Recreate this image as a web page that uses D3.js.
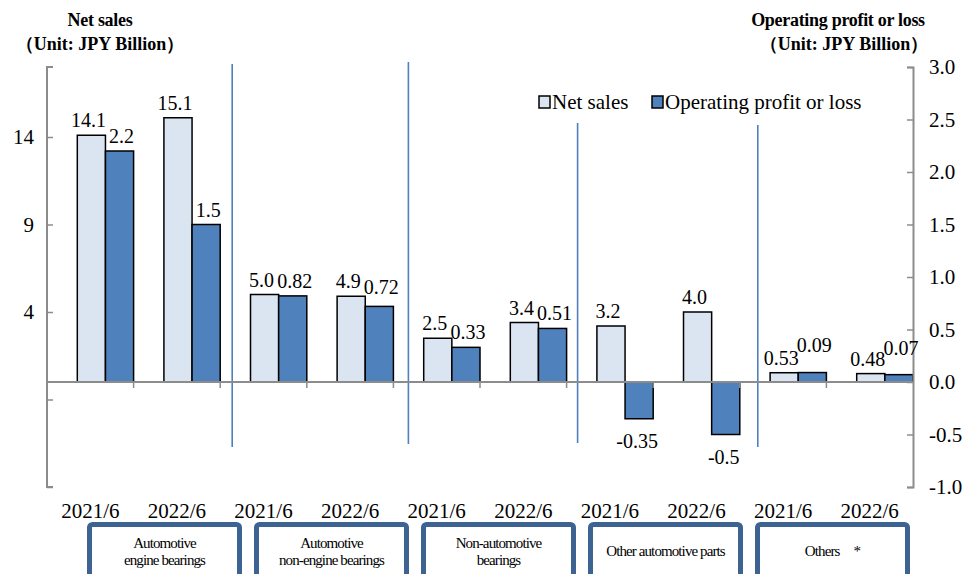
<!DOCTYPE html>
<html>
<head>
<meta charset="utf-8">
<script src="https://cdn.jsdelivr.net/npm/d3@7"></script>
<style>
  body { margin: 0; background: #fff; }
  svg { display: block; font-family: "Liberation Serif", "Times New Roman", serif; }
</style>
</head>
<body>
<div id="chart"></div>
<script>
// --- data ---
const periods = ["2021/6", "2022/6", "2021/6", "2022/6", "2021/6", "2022/6", "2021/6", "2022/6", "2021/6", "2022/6"];
const netSales = [14.1, 15.1, 5.0, 4.9, 2.5, 3.4, 3.2, 4.0, 0.53, 0.48];
const netSalesLabels = ["14.1", "15.1", "5.0", "4.9", "2.5", "3.4", "3.2", "4.0", "0.53", "0.48"];
const opProfit = [2.2, 1.5, 0.82, 0.72, 0.33, 0.51, -0.35, -0.5, 0.09, 0.07];
const opProfitLabels = ["2.2", "1.5", "0.82", "0.72", "0.33", "0.51", "-0.35", "-0.5", "0.09", "0.07"];
const segments = [
    ["Automotive", "engine bearings"],
    ["Automotive", "non-engine bearings"],
    ["Non-automotive", "bearings"],
    ["Other automotive parts"],
    ["Others\u3000*"]
];
const leftTicks = [-6, -1, 4, 9, 14];
const rightTicks = [-1.0, -0.5, 0.0, 0.5, 1.0, 1.5, 2.0, 2.5, 3.0];

const width = 964, height = 574;
const light = "#dbe5f1", dark = "#4f81bd", axisGray = "#8c8c8c";

const svg = d3.select("#chart").append("svg")
    .attr("width", width)
    .attr("height", height);

const x = d3.scaleBand()
    .domain(d3.range(periods.length))
    .range([47, 913])
    .padding(0);
const bw = x.bandwidth();

const series = d3.scaleBand()
    .domain(["sales", "op"])
    .range([bw * 0.35, bw])
    .padding(0);

const yL = d3.scaleLinear().domain([-6, 18]).range([487, 67]);
const yR = d3.scaleLinear().domain([-1, 3]).range([487, 67]);

// separators between segments
const sepOffsets = [12, 15, 11, 18];
const sepTops = [64, 62, 123, 125];
const sepBottoms = [447, 444, 443, 447];
sepOffsets.forEach((off, i) => {
    const sx = x((i + 1) * 2) + off;
    svg.append("line")
        .attr("x1", sx).attr("x2", sx)
        .attr("y1", sepTops[i]).attr("y2", sepBottoms[i])
        .attr("stroke", "#4f81bd")
        .attr("stroke-width", 1.6);
});

// bars
const g = svg.append("g");
g.selectAll("rect.sales")
    .data(netSales)
    .join("rect")
    .attr("class", "sales")
    .attr("x", (d, i) => x(i) + series("sales"))
    .attr("width", series.bandwidth())
    .attr("y", d => yL(d))
    .attr("height", d => yL(0) - yL(d))
    .attr("fill", light)
    .attr("stroke", "#000")
    .attr("stroke-width", 1.5);

g.selectAll("rect.op")
    .data(opProfit)
    .join("rect")
    .attr("class", "op")
    .attr("x", (d, i) => x(i) + series("op"))
    .attr("width", series.bandwidth())
    .attr("y", d => yR(Math.max(0, d)))
    .attr("height", d => Math.abs(yR(d) - yR(0)))
    .attr("fill", dark)
    .attr("stroke", "#000")
    .attr("stroke-width", 1.5);

// zero line + category ticks
svg.append("line")
    .attr("x1", 47).attr("x2", 913)
    .attr("y1", yL(0)).attr("y2", yL(0))
    .attr("stroke", axisGray).attr("stroke-width", 2);
svg.selectAll("line.xtick")
    .data(d3.range(1, periods.length))
    .join("line")
    .attr("class", "xtick")
    .attr("x1", d => x(d)).attr("x2", d => x(d))
    .attr("y1", yL(0)).attr("y2", yL(0) + 6)
    .attr("stroke", axisGray).attr("stroke-width", 1.5);

// left axis
const leftAxis = d3.axisRight(yL)
    .tickValues(leftTicks)
    .tickSize(6)
    .tickFormat(() => "");
const gl = svg.append("g").attr("transform", "translate(47,0)").call(leftAxis);
gl.select(".domain").attr("stroke", axisGray).attr("stroke-width", 2)
    .attr("d", `M6,${yL(18)}H0V${yL(-6)}H6`);
gl.selectAll(".tick line").attr("stroke", axisGray).attr("stroke-width", 1.5);
svg.selectAll("text.ltick")
    .data(leftTicks.filter(d => d > 0))
    .join("text")
    .attr("class", "ltick")
    .attr("x", 34)
    .attr("y", d => yL(d) + 7)
    .attr("text-anchor", "end")
    .style("font-size", "21px")
    .text(d => d);

// right axis
const rightAxis = d3.axisLeft(yR)
    .tickValues(rightTicks)
    .tickSize(6)
    .tickPadding(0)
    .tickFormat(() => "");
const gr = svg.append("g").attr("transform", "translate(913,0)").call(rightAxis);
gr.select(".domain").attr("stroke", axisGray).attr("stroke-width", 2);
gr.selectAll(".tick line").attr("stroke", axisGray).attr("stroke-width", 1.5);
svg.selectAll("text.rtick")
    .data(rightTicks)
    .join("text")
    .attr("class", "rtick")
    .attr("x", 929)
    .attr("y", d => yR(d) + 7)
    .style("font-size", "21px")
    .text(d => d3.format(".1f")(d).replace("−", "-"));

// data labels (small nudges keep neighbouring labels apart, like Excel does)
const opDy = [0, 0, 0, -4, 0, 0, 0, 0, -13, -12];
svg.selectAll("text.slab")
    .data(netSales)
    .join("text")
    .attr("class", "slab")
    .attr("x", (d, i) => x(i) + series("sales") + series.bandwidth() / 2 - 3)
    .attr("y", d => yL(d) - 8)
    .attr("text-anchor", "middle")
    .style("font-size", "20px")
    .text((d, i) => netSalesLabels[i]);
svg.selectAll("text.olab")
    .data(opProfit)
    .join("text")
    .attr("class", "olab")
    .attr("x", (d, i) => x(i) + series("op") + series.bandwidth() / 2 + (d < 0 ? -2 : 2))
    .attr("y", (d, i) => (d >= 0 ? yR(d) - 8 : yR(d) + 29) + opDy[i])
    .attr("text-anchor", "middle")
    .style("font-size", "20px")
    .text((d, i) => opProfitLabels[i]);

// period labels
svg.selectAll("text.period")
    .data(periods)
    .join("text")
    .attr("class", "period")
    .attr("x", (d, i) => x(i) + bw / 2)
    .attr("y", 518)
    .attr("text-anchor", "middle")
    .style("font-size", "21px")
    .text(d => d);

// segment boxes
const boxW = 155, boxStep = 167, boxLeft = 87, boxTop = 522;
segments.forEach((lines, i) => {
    const bx = boxLeft + i * boxStep;
    svg.append("rect")
        .attr("x", bx + 2.5).attr("y", boxTop + 2.5)
        .attr("width", boxW - 5).attr("height", 70)
        .attr("rx", 3)
        .attr("fill", "#fff")
        .attr("stroke", "#3d6392")
        .attr("stroke-width", 5);
    const cy = lines.length === 2 ? 548 : 556;
    lines.forEach((t, j) => {
        svg.append("text")
            .attr("x", bx + boxW / 2)
            .attr("y", cy + j * 17)
            .attr("text-anchor", "middle")
            .style("font-size", "15px")
            .style("letter-spacing", "-0.9px")
            .text(t);
    });
});

// legend
const legend = svg.append("g").attr("transform", "translate(538,95)");
const legendItems = [
    { label: "Net sales", color: light, x: 0 },
    { label: "Operating profit or loss", color: dark, x: 113 }
];
legendItems.forEach(it => {
    legend.append("rect")
        .attr("x", it.x + 1).attr("y", 1)
        .attr("width", 11).attr("height", 12)
        .attr("fill", it.color)
        .attr("stroke", "#000")
        .attr("stroke-width", 1.5);
    legend.append("text")
        .attr("x", it.x + 14)
        .attr("y", 14)
        .style("font-size", "21px")
        .text(it.label);
});

// axis titles
const titles = [
    { x: 100, lines: ["Net sales", "\uff08Unit: JPY Billion\uff09"] },
    { x: 838, lines: ["Operating profit or loss", "\uff08Unit: JPY Billion\uff09"] }
];
titles.forEach(t => {
    t.lines.forEach((l, j) => {
        svg.append("text")
            .attr("x", t.x + (j === 1 && t.x > 500 ? 6 : 0))
            .attr("y", 26 + j * 24)
            .attr("text-anchor", "middle")
            .style("font-size", "18px")
            .style("font-weight", "bold")
            .style("letter-spacing", j === 0 ? "-0.3px" : "0px")
            .text(l);
    });
});
</script>
</body>
</html>
